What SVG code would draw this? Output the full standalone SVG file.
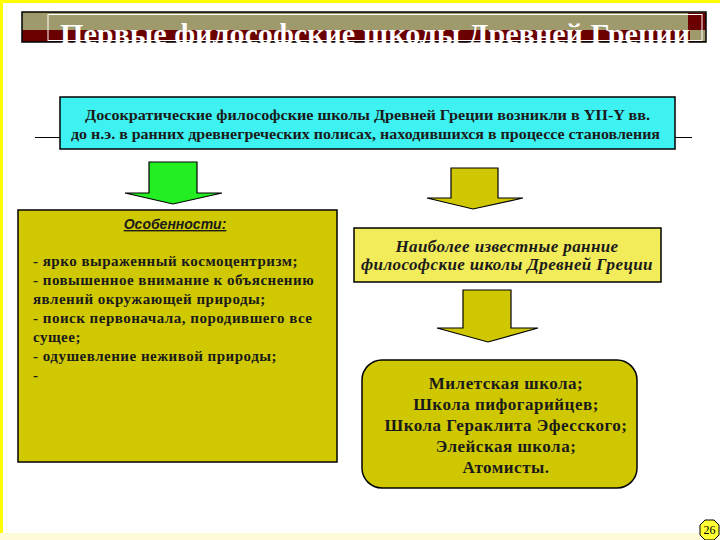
<svg xmlns="http://www.w3.org/2000/svg" width="720" height="540" viewBox="0 0 720 540">
<style>
.t{font-family:"Liberation Serif","Times New Roman",serif;font-weight:bold;fill:#1a1a1a}
.box{stroke:#000;stroke-width:1.5}
.arr{stroke:#000;stroke-width:1.2}
.f{font-size:15px;letter-spacing:0.5px}
.s{font-size:17px;letter-spacing:0.5px}
</style>
<rect x="0" y="0" width="720" height="540" fill="#ffffff"/>
<rect x="0" y="0" width="720" height="3" fill="#ffff00"/>
<rect x="0" y="0" width="3" height="540" fill="#ffff00"/>
<rect x="6" y="3" width="2" height="537" fill="#fffff0"/>
<rect x="0" y="533" width="720" height="7" fill="#fffbd8"/>

<g id="title">
  <rect x="22" y="12" width="684" height="18" fill="#9e9a6c"/>
  <rect x="22" y="30" width="684" height="12" fill="#6b0000"/>
  <rect x="688" y="13" width="18" height="17" fill="#6b0000"/>
  <rect x="690" y="30" width="16" height="11" fill="#9e9a6c"/>
  <rect x="22" y="12" width="684" height="30" fill="none" stroke="#000" stroke-width="1.5"/>
  <rect x="48" y="14.5" width="654" height="26" fill="none" stroke="#ffffff" stroke-width="1"/>
  <text x="60" y="44" font-family="Liberation Serif, Times New Roman, serif" font-weight="bold" font-size="30" fill="#ffffff" textLength="630" lengthAdjust="spacingAndGlyphs">Первые философские школы Древней Греции</text>
</g>

<g id="connectors">
  <line x1="35" y1="137.5" x2="60" y2="137.5" stroke="#000" stroke-width="1"/>
  <line x1="675" y1="137.5" x2="692" y2="137.5" stroke="#000" stroke-width="1"/>
  <polygon class="arr" points="149,162 197,162 197,193 222,193 173,204 125,193 149,193" fill="#22ee22"/>
  <polygon class="arr" points="451,168 498,168 498,198 523,198 473,209 427,198 451,198" fill="#cfc800"/>
  <polygon class="arr" points="463,290 511,290 511,328 538,328 488,342 437,328 463,328" fill="#cfc800"/>
</g>

<g id="intro">
  <rect class="box" x="60" y="97" width="615" height="52" fill="#3ef2f2"/>
  <text class="t" x="85" y="120" font-size="14" textLength="565" lengthAdjust="spacingAndGlyphs">Досократические философские школы Древней Греции возникли в YII-Y вв.</text>
  <text class="t" x="71" y="139" font-size="14" textLength="589" lengthAdjust="spacingAndGlyphs">до н.э. в ранних древнегреческих полисах, находившихся в процессе становления</text>
</g>

<g id="features">
  <rect class="box" x="18" y="210" width="319" height="252" fill="#d0c800"/>
  <text x="175" y="229" font-family="Liberation Sans, Arial, sans-serif" font-weight="bold" font-style="italic" font-size="14" text-anchor="middle" fill="#1a1a1a" text-decoration="underline">Особенности:</text>
  <text class="t f" x="33" y="266">- ярко выраженный космоцентризм;</text>
  <text class="t f" x="33" y="285">- повышенное внимание к объяснению</text>
  <text class="t f" x="33" y="304">явлений окружающей природы;</text>
  <text class="t f" x="33" y="323">- поиск первоначала, породившего все</text>
  <text class="t f" x="33" y="342">сущее;</text>
  <text class="t f" x="33" y="361">- одушевление неживой природы;</text>
  <text class="t f" x="33" y="380">-</text>
</g>

<g id="known">
  <rect class="box" x="354" y="228" width="307" height="54" fill="#f2ec5a"/>
  <text class="t" x="507" y="252" font-size="17" letter-spacing="0.4" font-style="italic" text-anchor="middle">Наиболее известные ранние</text>
  <text class="t" x="507" y="270" font-size="17" letter-spacing="0.4" font-style="italic" text-anchor="middle">философские школы Древней Греции</text>
</g>

<g id="schools">
  <rect class="box" x="362" y="360" width="275" height="128" rx="20" ry="20" fill="#cfc800"/>
  <text class="t s" x="506" y="389" text-anchor="middle">Милетская школа;</text>
  <text class="t s" x="506" y="410" text-anchor="middle">Школа пифогарийцев;</text>
  <text class="t s" x="506" y="431" text-anchor="middle">Школа Гераклита Эфесского;</text>
  <text class="t s" x="506" y="452" text-anchor="middle">Элейская школа;</text>
  <text class="t s" x="506" y="473" text-anchor="middle">Атомисты.</text>
</g>

<g id="pagenum">
  <polygon points="705,520 714,520 719,525 719,535 714,540 705,540 700,535 700,525" fill="#ffff33" stroke="#000" stroke-width="1"/>
  <text x="709.5" y="534" font-family="Liberation Serif, Times New Roman, serif" font-size="12" text-anchor="middle" fill="#000">26</text>
</g>
</svg>
